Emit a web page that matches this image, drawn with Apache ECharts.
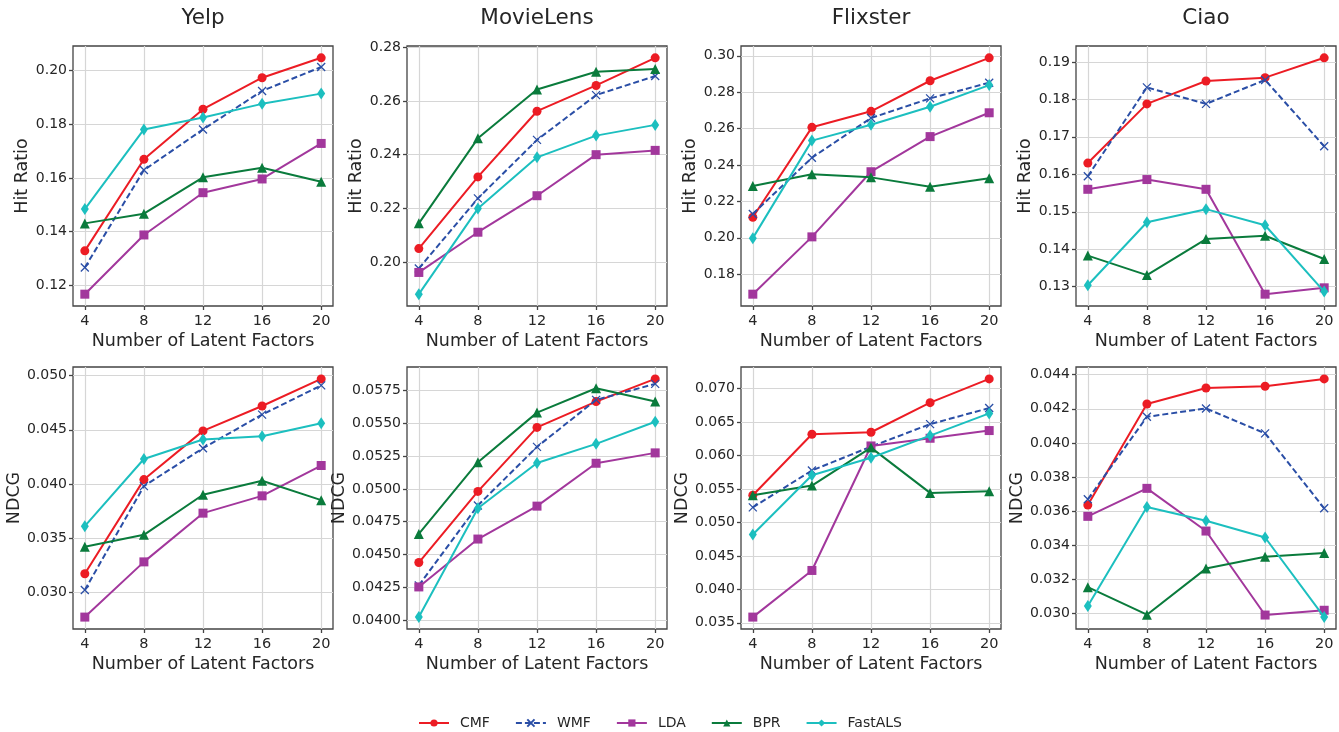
<!DOCTYPE html>
<html><head><meta charset="utf-8">
<script src="https://cdn.jsdelivr.net/npm/echarts@6/dist/echarts.min.js"></script>
<style>html,body{margin:0;padding:0;background:#fff}#c{width:1339px;height:732px}</style>
</head><body><div id="c"></div>
<script>
const factors = [4, 8, 12, 16, 20];
const methods = ['CMF', 'WMF', 'LDA', 'BPR', 'FastALS'];
const datasets = ['Yelp', 'MovieLens', 'Flixster', 'Ciao'];
const metrics = ['Hit Ratio', 'NDCG'];

// rows follow the order of `methods`
const hrYelp = [
  [0.1329, 0.1669, 0.1855, 0.1972, 0.2046],
  [0.1267, 0.1629, 0.1780, 0.1923, 0.2012],
  [0.1168, 0.1388, 0.1545, 0.1596, 0.1728],
  [0.1431, 0.1467, 0.1602, 0.1638, 0.1586],
  [0.1484, 0.1780, 0.1824, 0.1875, 0.1913]];
const hrMovieLens = [
  [0.2050, 0.2317, 0.2562, 0.2658, 0.2761],
  [0.1976, 0.2237, 0.2455, 0.2622, 0.2693],
  [0.1961, 0.2111, 0.2247, 0.2400, 0.2416],
  [0.2144, 0.2461, 0.2643, 0.2709, 0.2719],
  [0.1880, 0.2199, 0.2390, 0.2471, 0.2511]];
const hrFlixster = [
  [0.2113, 0.2607, 0.2695, 0.2863, 0.2989],
  [0.2131, 0.2440, 0.2658, 0.2766, 0.2852],
  [0.1690, 0.2005, 0.2363, 0.2556, 0.2687],
  [0.2285, 0.2349, 0.2332, 0.2281, 0.2327],
  [0.1998, 0.2534, 0.2621, 0.2720, 0.2839]];
const hrCiao = [
  [0.1630, 0.1788, 0.1849, 0.1858, 0.1911],
  [0.1595, 0.1832, 0.1788, 0.1852, 0.1675],
  [0.1560, 0.1586, 0.1560, 0.1280, 0.1297],
  [0.1383, 0.1331, 0.1427, 0.1436, 0.1374],
  [0.1304, 0.1472, 0.1507, 0.1464, 0.1287]];
const ndcgYelp = [
  [0.0317, 0.0404, 0.0449, 0.0472, 0.0497],
  [0.0302, 0.0398, 0.0433, 0.0464, 0.0491],
  [0.0277, 0.0328, 0.0373, 0.0389, 0.0417],
  [0.0342, 0.0353, 0.0390, 0.0403, 0.0385],
  [0.0361, 0.0423, 0.0441, 0.0444, 0.0456]];
const ndcgMovieLens = [
  [0.04439, 0.04981, 0.05469, 0.05666, 0.05839],
  [0.04265, 0.04874, 0.05321, 0.05679, 0.05801],
  [0.04253, 0.04618, 0.04869, 0.05196, 0.05275],
  [0.04657, 0.05204, 0.05582, 0.05768, 0.05666],
  [0.04023, 0.04853, 0.05198, 0.05344, 0.05512]];
const ndcgFlixster = [
  [0.05406, 0.06318, 0.06348, 0.06790, 0.07145],
  [0.05225, 0.05777, 0.06133, 0.06469, 0.06709],
  [0.03585, 0.04282, 0.06143, 0.06258, 0.06373],
  [0.05406, 0.05551, 0.06118, 0.05441, 0.05466],
  [0.04819, 0.05706, 0.05967, 0.06298, 0.06629]];
const ndcgCiao = [
  [0.03636, 0.04228, 0.04322, 0.04332, 0.04375],
  [0.03670, 0.04153, 0.04202, 0.04056, 0.03617],
  [0.03570, 0.03734, 0.03484, 0.02992, 0.03020],
  [0.03155, 0.02994, 0.03264, 0.03333, 0.03356],
  [0.03045, 0.03625, 0.03544, 0.03446, 0.02980]];

// y tick labels per panel
const hrYelpTicks = [0.12, 0.14, 0.16, 0.18, 0.20];
const hrMovieLensTicks = [0.20, 0.22, 0.24, 0.26, 0.28];
const hrFlixsterTicks = [0.18, 0.20, 0.22, 0.24, 0.26, 0.28, 0.30];
const hrCiaoTicks = [0.13, 0.14, 0.15, 0.16, 0.17, 0.18, 0.19];
const ndcgYelpTicks = [0.030, 0.035, 0.040, 0.045, 0.050];
const ndcgMovieLensTicks = [0.0400, 0.0425, 0.0450, 0.0475, 0.0500, 0.0525, 0.0550, 0.0575];
const ndcgFlixsterTicks = [0.035, 0.040, 0.045, 0.050, 0.055, 0.060, 0.065, 0.070];
const ndcgCiaoTicks = [0.030, 0.032, 0.034, 0.036, 0.038, 0.040, 0.042, 0.044];

const panelData = [hrYelp, hrMovieLens, hrFlixster, hrCiao, ndcgYelp, ndcgMovieLens, ndcgFlixster, ndcgCiao];
const panelTicks = [hrYelpTicks, hrMovieLensTicks, hrFlixsterTicks, hrCiaoTicks, ndcgYelpTicks, ndcgMovieLensTicks, ndcgFlixsterTicks, ndcgCiaoTicks];
const panelDecimals = [2, 2, 2, 2, 3, 4, 3, 3];

// styling
const colors = ['#ec1c24', '#2a4ea6', '#a2379c', '#0a7b3c', '#1cbfbf'];
const symbols = ['circle', 'path://M0,0L10,10M10,0L0,10', 'rect', 'triangle', 'path://M5,0L9,8L5,16L1,8Z'];
const symbolSizes = [9, 8, 9, 10, [8, 12]];
const gridLefts = [73, 407, 741, 1076];
const gridWidth = 260;
const rowTops = [46, 367];
const rowHeights = [260, 262];
const nameGaps = { 2: 38, 3: 45, 4: 54 };
const FONT = 'DejaVu Sans';

const grids = [], xAxes = [], yAxes = [], series = [], graphics = [];
for (let p = 0; p < 8; p++) {
  const r = Math.floor(p / 4), c = p % 4;
  grids.push({
    left: gridLefts[c], top: rowTops[r], width: gridWidth, height: rowHeights[r],
    show: true, borderColor: '#444', borderWidth: 1.3, backgroundColor: 'transparent',
    containLabel: false, outerBoundsMode: 'none'
  });
  const xSpan = factors[factors.length - 1] - factors[0];
  xAxes.push({
    type: 'value', gridIndex: p,
    min: factors[0] - 0.05 * xSpan, max: factors[factors.length - 1] + 0.05 * xSpan,
    axisLine: { show: false },
    axisTick: { show: true, customValues: factors, length: 4, lineStyle: { color: '#444', width: 1.3 } },
    axisLabel: { customValues: factors, color: '#262626', fontSize: 14.5, fontFamily: FONT, margin: 8, formatter: v => String(Math.round(v)) },
    splitLine: { show: true, lineStyle: { color: '#d6d6d6', width: 1.2 } },
    name: 'Number of Latent Factors', nameLocation: 'middle', nameGap: 26,
    nameTextStyle: { color: '#262626', fontSize: 17.5, fontFamily: FONT }
  });
  const allVals = panelData[p].flat();
  const dmin = Math.min(...allVals), dmax = Math.max(...allVals);
  const span = dmax - dmin;
  const dec = panelDecimals[p];
  yAxes.push({
    type: 'value', gridIndex: p,
    min: dmin - 0.05 * span, max: dmax + 0.05 * span,
    axisLine: { show: false },
    axisTick: { show: true, customValues: panelTicks[p], length: 4, lineStyle: { color: '#444', width: 1.3 } },
    axisLabel: { customValues: panelTicks[p], color: '#262626', fontSize: 14, fontFamily: FONT, margin: 6, formatter: v => Number(v).toFixed(dec) },
    splitLine: { show: true, lineStyle: { color: '#d6d6d6', width: 1.2 } },
    name: metrics[r], nameLocation: 'middle', nameGap: nameGaps[dec],
    nameTextStyle: { color: '#262626', fontSize: 17.5, fontFamily: FONT }
  });
  methods.forEach((m, k) => {
    series.push({
      type: 'line', name: m, xAxisIndex: p, yAxisIndex: p,
      data: factors.map((f, i) => [f, panelData[p][k][i]]),
      symbol: symbols[k], symbolSize: symbolSizes[k], showSymbol: true,
      lineStyle: { color: colors[k], width: 2, type: k === 1 ? [6, 3] : 'solid' },
      itemStyle: { color: k === 1 ? 'transparent' : colors[k], borderColor: colors[k], borderWidth: k === 1 ? 1.3 : 0 },
      emphasis: { disabled: true }, animation: false, z: 2 + k
    });
  });
  if (r === 0) {
    graphics.push({
      type: 'text', x: gridLefts[c] + gridWidth / 2, y: 18,
      style: { text: datasets[c], align: 'center', verticalAlign: 'middle', fontSize: 21.5, fontFamily: FONT, fill: '#262626' }
    });
  }
}

const chart = echarts.init(document.getElementById('c'), null, { renderer: 'canvas' });
chart.setOption({
  animation: false,
  backgroundColor: '#fff',
  grid: grids, xAxis: xAxes, yAxis: yAxes, series: series, graphic: graphics,
  legend: {
    data: methods, left: 413, top: 711, itemWidth: 30, itemHeight: 9, itemGap: 25,
    textStyle: { color: '#262626', fontSize: 14, fontFamily: FONT, padding: [0, 0, 0, 6] }
  }
});
</script></body></html>
